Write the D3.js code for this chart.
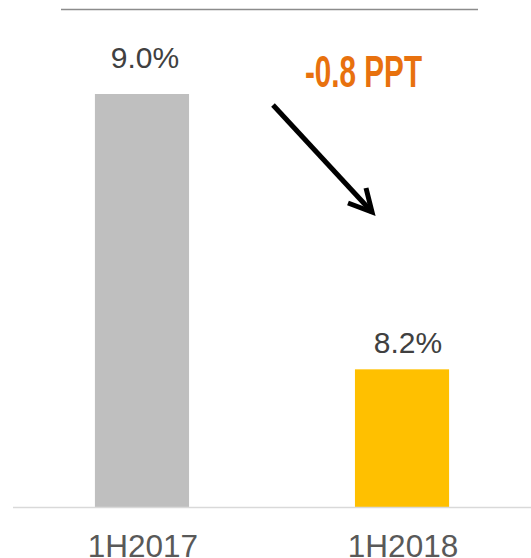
<!DOCTYPE html>
<html>
<head>
<meta charset="utf-8">
<script src="https://cdn.jsdelivr.net/npm/d3@7"></script>
<style>
  html, body { margin: 0; padding: 0; background: #fff; }
  svg { display: block; }
</style>
</head>
<body>
<svg id="chart" width="531" height="558"></svg>
<script>
const categories = ["1H2017", "1H2018"];
const values = [9.0, 8.2];
const valueLabels = ["9.0%", "8.2%"];
const barColors = ["#BFBFBF", "#FFC000"];
const changeLabel = "-0.8 PPT";

const svg = d3.select("#chart");

const x = d3.scaleBand().domain(categories).range([13, 531])
  .paddingInner(0.638).paddingOuter(0.315);
const y = d3.scaleLinear().domain([7.8, 9.0]).range([507, 94]);

// top rule
svg.append("line").attr("x1", 61).attr("x2", 478).attr("y1", 9.5).attr("y2", 9.5)
  .attr("stroke", "#8c8c8c").attr("stroke-width", 1.5);

// bars
svg.selectAll("rect.bar").data(values).enter().append("rect")
  .attr("class", "bar")
  .attr("x", (d, i) => x(categories[i]))
  .attr("y", d => y(d))
  .attr("width", x.bandwidth())
  .attr("height", d => y.range()[0] - y(d))
  .attr("fill", (d, i) => barColors[i]);

// baseline
svg.append("line").attr("x1", 13).attr("x2", 531).attr("y1", 507.5).attr("y2", 507.5)
  .attr("stroke", "#d9d9d9").attr("stroke-width", 1.5);

// value labels
const offs = [26, 16];
svg.selectAll("text.val").data(values).enter().append("text")
  .attr("class", "val")
  .attr("x", (d, i) => x(categories[i]) + x.bandwidth() / 2 + 3 + (i ? 3 : 0))
  .attr("y", (d, i) => y(d) - offs[i])
  .attr("text-anchor", "middle")
  .attr("font-family", "'Liberation Sans', Arial, sans-serif")
  .attr("font-size", 30)
  .attr("fill", "#404040")
  .text((d, i) => valueLabels[i]);

// category labels (clipped at the bottom edge, as in the original)
svg.selectAll("text.cat").data(categories).enter().append("text")
  .attr("class", "cat")
  .attr("x", d => x(d) + x.bandwidth() / 2 + 1)
  .attr("y", 556.5)
  .attr("text-anchor", "middle")
  .attr("font-family", "'Liberation Sans', Arial, sans-serif")
  .attr("font-size", 31.5)
  .attr("fill", "#595959")
  .text(d => d);

// change annotation
svg.append("text")
  .attr("x", 305).attr("y", 87)
  .attr("font-family", "'Liberation Sans Narrow', 'Liberation Sans', Arial, sans-serif")
  .attr("font-weight", "bold")
  .attr("font-size", 44)
  .attr("textLength", 117)
  .attr("lengthAdjust", "spacingAndGlyphs")
  .attr("fill", "#E8710E")
  .text(changeLabel);

// arrow
const g = svg.append("g").attr("stroke", "#000").attr("stroke-width", 5)
  .attr("fill", "none").attr("stroke-linecap", "butt");
g.append("line").attr("x1", 273).attr("y1", 105).attr("x2", 372).attr("y2", 212);
g.append("polyline").attr("points", "348,203 372,212 366,188").attr("stroke-linejoin", "miter");
</script>
</body>
</html>
